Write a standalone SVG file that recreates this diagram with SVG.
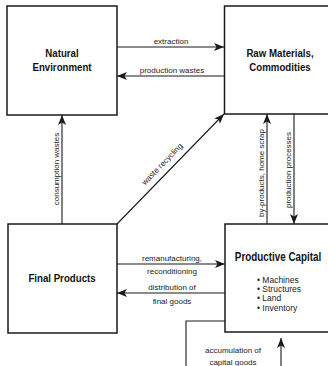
<svg xmlns="http://www.w3.org/2000/svg" width="328" height="366" viewBox="0 0 328 366">
<defs>
<marker id="ah" viewBox="0 0 10 8" refX="10" refY="4" markerWidth="10" markerHeight="8" markerUnits="userSpaceOnUse" orient="auto">
<path d="M0,0 L10,4 L0,8 L2.5,4 Z" fill="#1a1a1a"/>
</marker>
</defs>
<style>
.box{fill:#fff;stroke:#1a1a1a;stroke-width:1.5}
.ln{fill:none;stroke:#1a1a1a;stroke-width:1.1}
.title{font-family:"Liberation Sans",Arial,sans-serif;font-weight:bold;font-size:11px;fill:#111;text-anchor:middle}
.lbl{font-family:"Liberation Sans",Arial,sans-serif;font-size:8px;fill:#222;text-anchor:middle}
.item{font-family:"Liberation Sans",Arial,sans-serif;font-size:8.5px;fill:#222}
</style>
<rect width="328" height="366" fill="#fff"/>
<g id="connectors">
<line class="ln" x1="117" y1="47" x2="224" y2="47" marker-end="url(#ah)"/>
<line class="ln" x1="224" y1="76" x2="117" y2="76" marker-end="url(#ah)"/>
<line class="ln" x1="62" y1="224" x2="62" y2="115" marker-end="url(#ah)"/>
<line class="ln" x1="117" y1="224" x2="224" y2="114" marker-end="url(#ah)"/>
<line class="ln" x1="267" y1="224" x2="267" y2="114" marker-end="url(#ah)"/>
<line class="ln" x1="294" y1="114" x2="294" y2="224" marker-end="url(#ah)"/>
<line class="ln" x1="117" y1="264" x2="225" y2="264" marker-end="url(#ah)"/>
<line class="ln" x1="225" y1="293" x2="117" y2="293" marker-end="url(#ah)"/>
<polyline class="ln" points="225,321 186,321 186,366"/>
<line class="ln" x1="281" y1="366" x2="281" y2="338" marker-end="url(#ah)"/>
<text class="lbl" x="171" y="44">extraction</text>
<text class="lbl" x="172" y="73">production wastes</text>
<text class="lbl" transform="translate(59,169) rotate(-90)">consumption wastes</text>
<text class="lbl" transform="translate(164,166) rotate(-45.8)">waste recycling</text>
<text class="lbl" transform="translate(264,173) rotate(-90)">by-products, home scrap</text>
<text class="lbl" transform="translate(291,170) rotate(-90)">production processes</text>
<text class="lbl" x="172" y="261">remanufacturing,</text>
<text class="lbl" x="172" y="274">reconditioning</text>
<text class="lbl" x="172" y="290">distribution of</text>
<text class="lbl" x="172" y="304">final goods</text>
<text class="lbl" x="233" y="353">accumulation of</text>
<text class="lbl" x="233" y="365">capital goods</text>
</g>
<g id="natural-environment">
<rect class="box" x="7" y="6" width="110" height="109"/>
<text class="title" transform="translate(62,57) scale(0.88,1)">Natural</text>
<text class="title" transform="translate(62,71) scale(0.88,1)">Environment</text>
</g>
<g id="raw-materials">
<rect class="box" x="224.5" y="6" width="110" height="108"/>
<text class="title" transform="translate(280,57) scale(0.88,1)">Raw Materials,</text>
<text class="title" transform="translate(280,71) scale(0.88,1)">Commodities</text>
</g>
<g id="final-products">
<rect class="box" x="8" y="224" width="109" height="109"/>
<text class="title" transform="translate(62,282) scale(0.88,1)">Final Products</text>
</g>
<g id="productive-capital">
<rect class="box" x="225" y="224" width="110" height="108"/>
<text class="title" transform="translate(278,261) scale(0.82,1)" style="font-size:12px">Productive Capital</text>
<text class="item" x="257" y="283">•  Machines</text>
<text class="item" x="257" y="292">•  Structures</text>
<text class="item" x="257" y="301">•  Land</text>
<text class="item" x="257" y="311">•  Inventory</text>
</g>
</svg>
